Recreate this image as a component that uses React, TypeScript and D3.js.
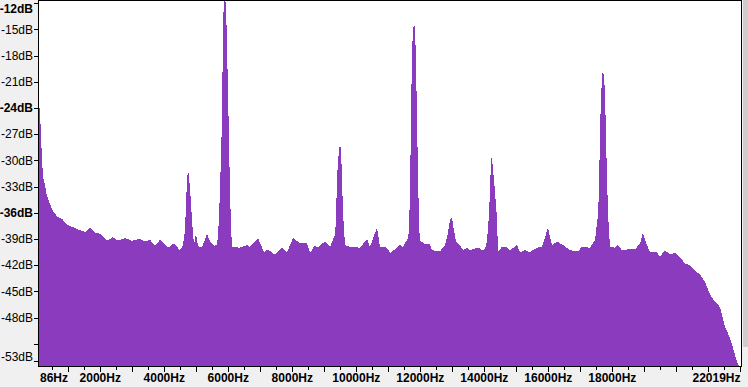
import React from 'react';
import * as d3 from 'd3';

// Spectrum readings (frequency in Hz, level in dB)
const freqHz = [
  86, 117, 148, 180, 211, 273, 336, 430, 523, 648, 805, 961, 1117, 1367, 1554, 1679, 1836, 1992, 2211, 2398,
  2554, 2773, 2992, 3242, 3398, 3554, 3710, 3867, 4117, 4304, 4491, 4585, 4648, 4679, 4710, 4741, 4773, 4804, 4835, 4866,
  4898, 4929, 4991, 5054, 5179, 5335, 5429, 5554, 5648, 5679, 5710, 5741, 5804, 5835, 5866, 5897, 5929, 5960, 5991, 6022,
  6054, 6085, 6116, 6366, 6585, 6679, 6929, 7116, 7241, 7460, 7678, 7835, 8022, 8241, 8459, 8553, 8709, 8772, 9022, 9178,
  9334, 9365, 9397, 9459, 9490, 9522, 9553, 9584, 9647, 9803, 10115, 10334, 10428, 10646, 10740, 10959, 11053, 11271, 11365, 11459,
  11553, 11615, 11646, 11678, 11709, 11740, 11771, 11803, 11834, 11865, 11896, 11928, 11959, 11990, 12146, 12302, 12365, 12615, 12771, 12865,
  12927, 12990, 13021, 13115, 13240, 13333, 13458, 13552, 13802, 13958, 14052, 14115, 14177, 14208, 14240, 14271, 14333, 14396, 14427, 14552,
  14677, 14802, 15021, 15114, 15271, 15427, 15646, 15802, 15895, 15989, 16052, 16114, 16270, 16458, 16677, 16927, 17051, 17301, 17458, 17552,
  17583, 17614, 17645, 17677, 17708, 17739, 17770, 17802, 17864, 17926, 18083, 18176, 18301, 18457, 18707, 18864, 18957, 19020, 19082, 19176,
  19395, 19488, 19582, 19645, 19738, 19801, 19957, 20113, 20270, 20426, 20582, 20738, 20895, 21051, 21207, 21363, 21519, 21613, 21738, 21832,
  21895, 21957,
];
const levelDb = [
  -23.5, -24.5, -27.1, -30.0, -31.8, -32.9, -34.1, -35.0, -35.8, -36.4, -36.7, -37.4, -37.6, -38.0, -38.2, -37.7, -38.3, -38.4, -39.2, -38.8,
  -39.2, -38.9, -39.2, -39.0, -39.3, -39.1, -39.8, -39.1, -40.0, -39.5, -40.3, -39.7, -38.0, -35.1, -32.2, -31.1, -31.7, -33.4, -34.8, -36.8,
  -38.5, -39.6, -38.4, -39.8, -40.0, -38.4, -39.3, -39.8, -39.7, -38.5, -36.6, -33.4, -25.4, -14.5, -11.7, -11.7, -12.0, -16.9, -21.9, -27.7,
  -33.6, -37.6, -39.9, -40.0, -39.7, -39.9, -38.9, -40.5, -40.2, -40.8, -40.0, -40.5, -38.9, -39.5, -39.5, -40.6, -39.7, -40.0, -39.3, -39.9,
  -38.5, -36.8, -31.9, -28.8, -28.1, -28.8, -31.9, -36.0, -39.7, -39.9, -40.0, -39.0, -39.9, -37.7, -39.9, -40.0, -40.6, -40.0, -39.7, -39.9,
  -39.3, -38.9, -38.0, -33.4, -25.4, -17.4, -15.3, -14.1, -15.1, -18.5, -25.4, -31.4, -37.4, -39.2, -39.6, -39.6, -40.3, -40.4, -39.7, -38.3,
  -36.8, -36.5, -37.4, -39.3, -39.7, -40.3, -40.0, -40.3, -40.0, -40.3, -39.9, -38.0, -33.7, -29.8, -29.7, -31.1, -33.6, -36.6, -40.5, -39.9,
  -39.9, -40.3, -39.7, -40.5, -40.3, -40.5, -40.0, -39.9, -38.8, -37.7, -38.8, -39.7, -39.3, -39.7, -40.3, -40.4, -39.9, -40.0, -39.1, -36.2,
  -33.4, -26.5, -22.9, -20.4, -19.5, -20.8, -21.9, -27.7, -36.0, -39.9, -40.0, -39.7, -40.3, -40.2, -40.2, -39.5, -38.3, -39.1, -39.7, -40.5,
  -40.5, -41.1, -40.5, -40.3, -40.6, -40.8, -40.6, -41.1, -41.8, -42.0, -42.6, -43.1, -43.9, -45.4, -46.2, -46.8, -49.1, -49.8, -51.1, -52.3,
  -53.1, -53.7,
];

const yTickDb = [-12, -15, -18, -21, -24, -27, -30, -33, -36, -39, -42, -45, -48, -51, -53];
const yLabelDb = [-12, -15, -18, -21, -24, -27, -30, -33, -36, -39, -42, -45, -48, -53];
const yBoldDb = [-12, -24, -36];
const xLabelHz = [86, 2000, 4000, 6000, 8000, 10000, 12000, 14000, 16000, 18000, 22019];

const FILL = '#8b3cbe';
const FONT = '"Liberation Sans", Arial, sans-serif';

export default function App() {
  const W = 748;
  const H = 387;
  const left = 39;
  const right = 741;
  const top = 0;
  const bottom = 366;

  const x = d3.scaleLinear().domain([86, 22019]).range([left, right]);
  const y = d3.scaleLinear().domain([-54, -11]).range([369.9, -5.49]);

  const data = freqHz.map((f, i) => ({ f, db: levelDb[i] }));
  const area = d3
    .area<{ f: number; db: number }>()
    .x((d) => x(d.f))
    .y0(bottom)
    .y1((d) => Math.min(bottom, y(d.db)))
    .curve(d3.curveLinear);

  const minorHz = d3.range(500, 22001, 500);

  return (
    <svg
      width={W}
      height={H}
      style={{ position: 'absolute', left: 0, top: 0, display: 'block' }}
      fontFamily={FONT}
    >
      <defs>
        <clipPath id="plotClip">
          <rect x={left} y={top} width={right - left} height={bottom - top} />
        </clipPath>
      </defs>
      <rect x={0} y={0} width={W} height={H} fill="#f0f0f0" />
      <rect x={left} y={top} width={right - left} height={bottom - top} fill="#ffffff" />
      <path d={area(data) || ''} fill={FILL} clipPath="url(#plotClip)" shapeRendering="crispEdges" />

      {/* frame */}
      <line x1={38} x2={742} y1={0.5} y2={0.5} stroke="#000" />
      <line x1={741.5} x2={741.5} y1={0} y2={bottom + 1} stroke="#000" />
      <line x1={38.5} x2={38.5} y1={0} y2={bottom + 1} stroke="#000" />
      <line x1={38} x2={742} y1={bottom + 0.5} y2={bottom + 0.5} stroke="#000" />

      {/* scrollbar strip */}
      <rect x={743} y={0} width={5} height={347} fill="#cdcdcd" />

      {/* y ticks */}
      {yTickDb.map((v) => (
        <line
          key={'yt' + v}
          x1={34}
          x2={38}
          y1={Math.round(Math.min(y(v), 363)) + 0.5}
          y2={Math.round(Math.min(y(v), 363)) + 0.5}
          stroke="#000"
        />
      ))}
      {yLabelDb.map((v) => {
        const base = Math.min(Math.max(y(v) + 4.3, 12.7), 361.3);
        return (
          <text
            key={'yl' + v}
            x={33}
            y={base}
            textAnchor="end"
            fontSize={12}
            fontWeight={yBoldDb.includes(v) ? 'bold' : 'normal'}
            fill="#000"
          >
            {`${v}dB`}
          </text>
        );
      })}

      {/* x ticks */}
      {minorHz.map((f) => (
        <line
          key={'xt' + f}
          x1={Math.round(x(f)) + 0.5}
          x2={Math.round(x(f)) + 0.5}
          y1={bottom + 1}
          y2={bottom + 1 + (f % 1000 === 0 ? 5 : 3)}
          stroke="#000"
        />
      ))}
      {xLabelHz.map((f, i) => {
        const first = i === 0;
        const last = i === xLabelHz.length - 1;
        return (
          <text
            key={'xl' + f}
            x={first ? 40 : last ? 740.5 : x(f)}
            y={382}
            textAnchor={first ? 'start' : last ? 'end' : 'middle'}
            fontSize={12}
            fontWeight="bold"
            fill="#000"
          >
            {`${f}Hz`}
          </text>
        );
      })}
    </svg>
  );
}
